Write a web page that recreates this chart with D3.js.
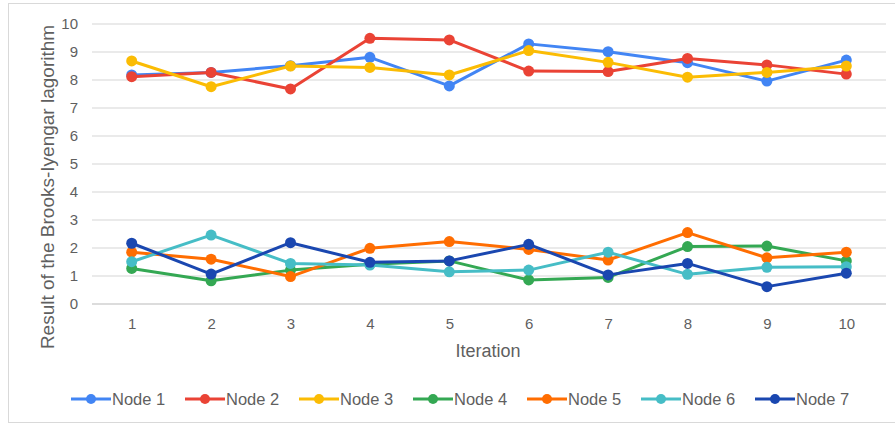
<!DOCTYPE html>
<html><head><meta charset="utf-8">
<script src="https://cdn.jsdelivr.net/npm/d3@7"></script>
<style>body{margin:0;background:#fff;} text{font-family:"Liberation Sans",Arial,sans-serif;}</style>
</head><body>
<svg id="c" width="895" height="425"></svg>
<script>
const iterations = [1,2,3,4,5,6,7,8,9,10];
const seriesNames = ["Node 1","Node 2","Node 3","Node 4","Node 5","Node 6","Node 7"];
const colors = ["#4285F4","#EA4335","#FBBC04","#34A853","#FF6D01","#46BDC6","#1A47B0"];
const node1 = [8.18,8.27,8.51,8.81,7.79,9.29,9.01,8.62,7.96,8.71];
const node2 = [8.12,8.27,7.68,9.49,9.43,8.32,8.30,8.77,8.54,8.21];
const node3 = [8.68,7.76,8.50,8.45,8.18,9.05,8.63,8.10,8.27,8.50];
const node4 = [1.27,0.83,1.21,1.42,1.54,0.86,0.95,2.05,2.07,1.54];
const node5 = [1.85,1.60,0.98,1.99,2.23,1.95,1.57,2.55,1.65,1.85];
const node6 = [1.51,2.46,1.45,1.39,1.15,1.21,1.85,1.06,1.31,1.33];
const node7 = [2.17,1.07,2.19,1.49,1.54,2.13,1.04,1.45,0.62,1.10];
const yTicks = [0,1,2,3,4,5,6,7,8,9,10];
const allSeries = [node1,node2,node3,node4,node5,node6,node7];

const svg = d3.select("#c");
svg.append("rect").attr("x",8.5).attr("y",3.5).attr("width",895).attr("height",419)
  .attr("fill","#fff").attr("stroke","#d9d9d9");

const x = d3.scalePoint().domain(iterations).range([92,886]).padding(0.5);
const y = d3.scaleLinear().domain([0,10]).range([304,24]);

// gridlines
svg.append("g").selectAll("line").data(yTicks).join("line")
  .attr("x1",92).attr("x2",886).attr("y1",d=>y(d)).attr("y2",d=>y(d))
  .attr("stroke",d=>d===0?"#d0d0d0":"#e3e3e3").attr("stroke-width",1.5);

// y axis labels
const yAxis = d3.axisLeft(y).tickValues(yTicks).tickSize(0).tickPadding(0);
const ya = svg.append("g").attr("transform","translate(78,0)").call(yAxis);
ya.select(".domain").remove();
ya.selectAll("text").attr("font-size",15).attr("fill","#5f5f5f").style("font-family","Liberation Sans, Arial, sans-serif");

// x axis labels
const xAxis = d3.axisBottom(x).tickSize(0).tickPadding(0);
const xa = svg.append("g").attr("transform","translate(0,318)").call(xAxis);
xa.select(".domain").remove();
xa.selectAll("text").attr("font-size",15).attr("fill","#5f5f5f").style("font-family","Liberation Sans, Arial, sans-serif");

// axis titles
svg.append("text").attr("x",488).attr("y",357).attr("text-anchor","middle")
  .attr("font-size",18).attr("fill","#5f5f5f").text("Iteration");
svg.append("text").attr("transform","translate(54,187) rotate(-90)").attr("text-anchor","middle")
  .attr("font-size",19).attr("fill","#5f5f5f").text("Result of the Brooks-Iyengar lagorithm");

// lines
const line = d3.line().x((d,i)=>x(iterations[i])).y(d=>y(d));
allSeries.forEach((s,k)=>{
  const g = svg.append("g");
  g.append("path").datum(s).attr("d",line).attr("fill","none")
    .attr("stroke",colors[k]).attr("stroke-width",3).attr("stroke-linejoin","round");
  g.selectAll("circle").data(s).join("circle")
    .attr("cx",(d,i)=>x(iterations[i])).attr("cy",d=>y(d)).attr("r",5.5).attr("fill",colors[k]);
});

// legend
const leg = svg.append("g");
seriesNames.forEach((n,k)=>{
  const lx = 71 + k*114;
  leg.append("line").attr("x1",lx).attr("x2",lx+40).attr("y1",399).attr("y2",399)
    .attr("stroke",colors[k]).attr("stroke-width",3);
  leg.append("circle").attr("cx",lx+20).attr("cy",399).attr("r",5).attr("fill",colors[k]);
  leg.append("text").attr("x",lx+41).attr("y",405).attr("font-size",16.5).attr("fill","#5f5f5f").text(n);
});
</script>
</body></html>
